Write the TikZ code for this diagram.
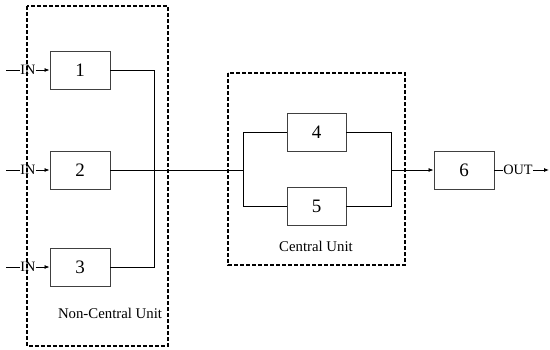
\documentclass[tikz,border=0pt]{standalone}
\usepackage{fontspec}
\setmainfont{Liberation Serif}
\usetikzlibrary{arrows.meta}
\begin{document}
\begin{tikzpicture}[x=1pt,y=-1pt,
  blk/.style={draw=black!75,line width=0.9pt,minimum width=60pt,minimum height=38pt,inner sep=0pt,font=\fontsize{19}{19}\selectfont},
  unit/.style={draw,line width=1.1pt,dash pattern=on 4pt off 2pt},
  wire/.style={line width=0.8pt},
  arr/.style={wire,-{Latex[length=5pt,width=4pt]}},
  lbl/.style={font=\fontsize{14.8}{14.8}\selectfont,inner sep=0pt},
  io/.style={font=\fontsize{14.3}{14.3}\selectfont,inner sep=0pt}]
\useasboundingbox (0,0) rectangle (550,349);
% units
\draw[unit] (27,6) rectangle (168,346);
\draw[unit] (228,73) rectangle (405,265);
% blocks
\node[blk] (b1) at (80,70) {1};
\node[blk] (b2) at (80,170) {2};
\node[blk] (b3) at (80,267) {3};
\node[blk,minimum width=59pt] (b4) at (316.5,132) {4};
\node[blk,minimum width=59pt] (b5) at (316.5,206) {5};
\node[blk] (b6) at (464,170) {6};
% inputs
\node[io] (in1) at (28,70) {IN};
\node[io] (in2) at (28,170) {IN};
\node[io] (in3) at (28,267) {IN};
\coordinate (s1) at (6,70);
\coordinate (s2) at (6,170);
\coordinate (s3) at (6,267);
\foreach \i in {1,2,3}{
  \draw[wire] (s\i) -- (in\i.west);
  \draw[arr] (in\i.east) -- (b\i.west);
}
% collector
\coordinate (c1) at (154,70);
\coordinate (c3) at (154,267);
\draw[wire] (b1.east) -- (c1) -- (c3) -- (b3.east);
% split
\coordinate (sp) at (243,170);
\coordinate (sp4) at (243,132);
\coordinate (sp5) at (243,206);
\draw[wire] (b2.east) -- (sp);
\draw[wire] (b4.west) -- (sp4) -- (sp5) -- (b5.west);
\coordinate (jn) at (391,170);
\coordinate (jn4) at (391,132);
\coordinate (jn5) at (391,206);
\draw[wire] (b4.east) -- (jn4) -- (jn5) -- (b5.east);
\draw[arr] (jn) -- (b6.west);
% output
\node[io] (out) at (518,170) {OUT};
\coordinate (oe) at (549,170);
\draw[wire] (b6.east) -- (out.west);
\draw[arr] (out.east) -- (oe);
% labels
\node[lbl] (lc) at (316,246) {Central Unit};
\node[lbl] (lnc) at (110,313) {Non-Central Unit};
\end{tikzpicture}
\end{document}
